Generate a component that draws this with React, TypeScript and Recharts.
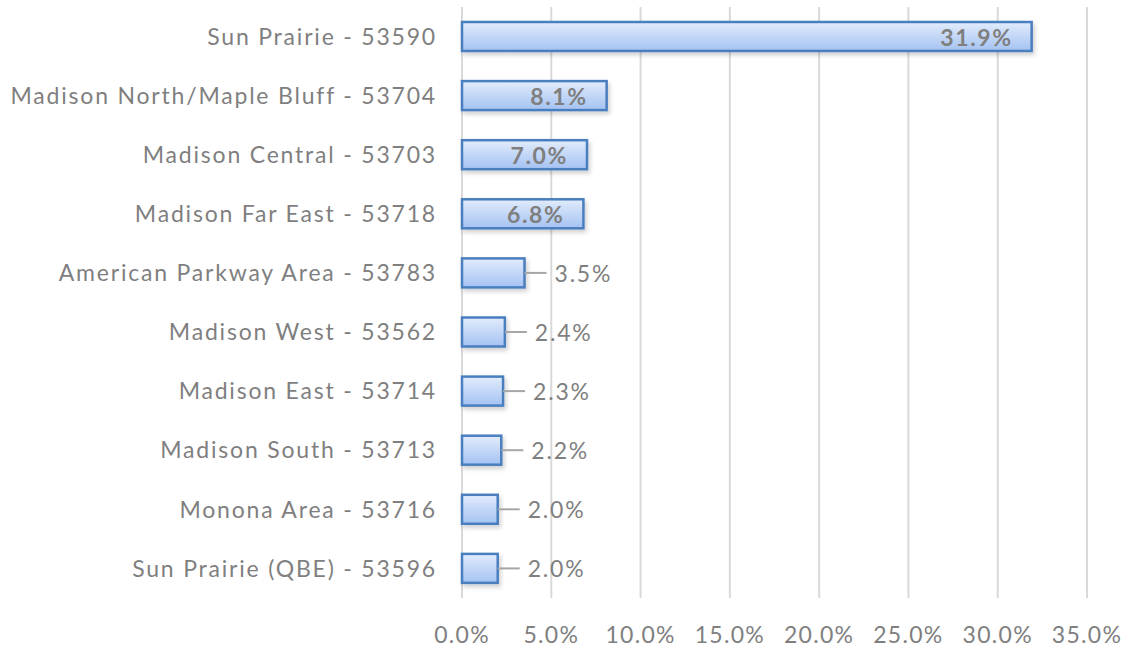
import React from "react";
import { Bar, BarChart, CartesianGrid, LabelList, XAxis, YAxis } from "recharts";

const categories = [
  "Sun Prairie - 53590",
  "Madison North/Maple Bluff - 53704",
  "Madison Central - 53703",
  "Madison Far East - 53718",
  "American Parkway Area - 53783",
  "Madison West - 53562",
  "Madison East - 53714",
  "Madison South - 53713",
  "Monona Area - 53716",
  "Sun Prairie (QBE) - 53596",
];
const shares = [31.9, 8.1, 7.0, 6.8, 3.5, 2.4, 2.3, 2.2, 2.0, 2.0];
const xTicks = [0, 5, 10, 15, 20, 25, 30, 35];

const data = categories.map((name, i) => ({ name, share: shares[i] }));

const FONT = "Lato, 'Open Sans', sans-serif";
const GRAY = "#7f7f7f";

// big bars get the label inside in bold, small ones get a leader line
function ValueLabel(props: any) {
  const { x, y, width, height, value } = props;
  const cy = y + height / 2;
  const end = x + width;
  const text = `${Number(value).toFixed(1)}%`;
  if (value > 5) {
    return (
      <text
        x={end - 19}
        y={cy}
        textAnchor="end"
        dominantBaseline="central"
        fill={GRAY}
        fontSize={23}
        fontWeight={700}
        fontFamily={FONT}
        letterSpacing={1.6}
      >
        {text}
      </text>
    );
  }
  return (
    <g>
      <line x1={end} y1={cy} x2={end + 22} y2={cy} stroke="#a6a6a6" strokeWidth={2} />
      <text
        x={end + 30}
        y={cy}
        dominantBaseline="central"
        fill={GRAY}
        fontSize={23}
        fontFamily={FONT}
        letterSpacing={1.8}
      >
        {text}
      </text>
    </g>
  );
}

function BarShape(props: any) {
  const { x, y, width, height } = props;
  return (
    <rect
      x={x}
      y={y}
      width={width}
      height={height}
      fill="url(#barFill)"
      stroke="#4a7ebf"
      strokeWidth={2.5}
      filter="url(#barShadow)"
    />
  );
}

export default function App() {
  return (
    <div style={{ position: "absolute", left: 0, top: 0 }}>
      <BarChart
        width={1129}
        height={650}
        data={data}
        layout="vertical"
        margin={{ top: 7, right: 42, bottom: 0, left: 0 }}
        barSize={29}
      >
        <defs>
          <linearGradient id="barFill" x1="0" y1="0" x2="0" y2="1">
            <stop offset="0%" stopColor="#e2ecfc" />
            <stop offset="100%" stopColor="#a4c2f2" />
          </linearGradient>
          <filter id="barShadow" x="-10%" y="-30%" width="130%" height="180%">
            <feDropShadow dx="2" dy="3" stdDeviation="2" floodColor="#000" floodOpacity="0.18" />
          </filter>
        </defs>
        <CartesianGrid horizontal={false} stroke="#d9d9d9" strokeWidth={2} />
        <XAxis
          type="number"
          domain={[0, 35]}
          ticks={xTicks}
          tickFormatter={(v) => `${v.toFixed(1)}%`}
          axisLine={false}
          tickLine={false}
          tickSize={0}
          tickMargin={29}
          height={52}
          interval={0}
          tick={{ fill: GRAY, fontSize: 23, fontFamily: FONT, letterSpacing: 1.3 }}
        />
        <YAxis
          type="category"
          dataKey="name"
          width={462}
          axisLine={false}
          tickLine={false}
          tickSize={0}
          tickMargin={25}
          interval={0}
          tick={{ fill: GRAY, fontSize: 23, fontFamily: FONT, letterSpacing: 1.8 }}
        />
        <Bar dataKey="share" shape={<BarShape />} isAnimationActive={false}>
          <LabelList dataKey="share" content={<ValueLabel />} />
        </Bar>
      </BarChart>
    </div>
  );
}
